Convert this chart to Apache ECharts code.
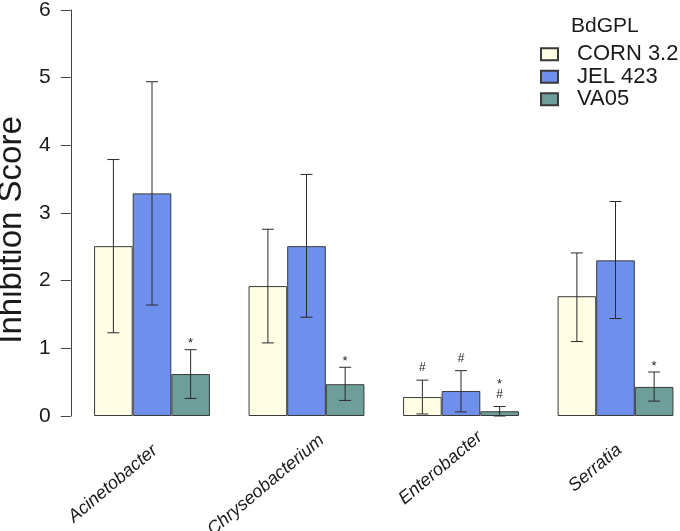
<!DOCTYPE html>
<html>
<head>
<meta charset="utf-8">
<script src="https://cdn.jsdelivr.net/npm/echarts@6/dist/echarts.min.js"></script>
<style>
html,body{margin:0;padding:0;background:#fff;}
#main{width:680px;height:531px;}
</style>
</head>
<body>
<div id="main"></div>
<script>
// ---- data ----
var categories = ['Acinetobacter', 'Chryseobacterium', 'Enterobacter', 'Serratia'];
var seriesNames = ['CORN 3.2', 'JEL 423', 'VA05'];
var yTicks = [0, 1, 2, 3, 4, 5, 6];

var cornMean = [2.51, 1.92, 0.28, 1.77];
var cornLow  = [1.23, 1.08, 0.03, 1.10];
var cornHigh = [3.79, 2.76, 0.53, 2.41];

var jelMean  = [3.29, 2.51, 0.37, 2.30];
var jelLow   = [1.64, 1.46, 0.06, 1.44];
var jelHigh  = [4.94, 3.57, 0.67, 3.17];

var vaMean   = [0.62, 0.47, 0.07, 0.43];
var vaLow    = [0.26, 0.23, 0.00, 0.22];
var vaHigh   = [0.98, 0.72, 0.14, 0.65];

// significance marks, listed bottom to top
var cornNote = ['', '', '#', ''];
var jelNote  = ['', '', '#', ''];
var vaNote   = ['*', '*', '#*', '*'];

var colors = ['#FFFDE4', '#6E8FEB', '#6E9E9A'];
var FONT = '"Liberation Sans", Arial, Helvetica, sans-serif';

var means = [cornMean, jelMean, vaMean];
var lows = [cornLow, jelLow, vaLow];
var highs = [cornHigh, jelHigh, vaHigh];
var notes = [cornNote, jelNote, vaNote];

var barSeries = seriesNames.map(function (name, s) {
  return {
    name: name,
    type: 'bar',
    data: means[s],
    barGap: '0%',
    barCategoryGap: '25%',
    itemStyle: { color: colors[s], borderColor: '#3a3a3a', borderWidth: 1 },
    emphasis: { disabled: true },
    z: 2
  };
});

var errData = [];
for (var s = 0; s < 3; s++) {
  for (var c = 0; c < categories.length; c++) {
    errData.push([c, lows[s][c], highs[s][c], s]);
  }
}

var errSeries = {
  type: 'custom',
  name: 'err',
  data: errData,
  z: 5,
  silent: true,
  encode: { x: 0, y: [1, 2] },
  renderItem: function (params, api) {
    var c = api.value(0), lo = api.value(1), hi = api.value(2), s = api.value(3);
    var band = api.size([1, 0])[0];
    var bw = band * 0.75 / 3;
    var pLo = api.coord([c, lo]);
    var pHi = api.coord([c, hi]);
    var x = pLo[0] + (s - 1) * bw;
    var cap = 6;
    var st = { stroke: '#2a2a2a', lineWidth: 1 };
    var children = [
      { type: 'line', shape: { x1: x, y1: pLo[1], x2: x, y2: pHi[1] }, style: st },
      { type: 'line', shape: { x1: x - cap, y1: pHi[1], x2: x + cap, y2: pHi[1] }, style: st },
      { type: 'line', shape: { x1: x - cap, y1: pLo[1], x2: x + cap, y2: pLo[1] }, style: st }
    ];
    var note = notes[s][c];
    var base = pHi[1];
    for (var k = 0; k < note.length; k++) {
      var ch = note.charAt(k);
      var cy = ch === '#' ? base - 12 : base - 6;
      children.push({
        type: 'text',
        style: {
          text: ch, x: x, y: cy,
          align: 'center', verticalAlign: 'middle',
          fontSize: ch === '#' ? 12 : 13, fontFamily: FONT, fill: '#222'
        }
      });
      base = base - 16;
    }
    return { type: 'group', children: children };
  }
};

// label nudges along the text direction (style only)
var labelRich = {
  l0: { padding: [0, -4, 0, 0] },
  l1: { padding: [0, -20, 0, 0] },
  l2: { padding: [0, -25, 0, 0] },
  l3: { padding: [0, -5, 0, 0] }
};
for (var key in labelRich) {
  labelRich[key].fontSize = 18;
  labelRich[key].fontStyle = 'italic';
  labelRich[key].fontFamily = FONT;
  labelRich[key].color = '#1a1a1a';
}

var chart = echarts.init(document.getElementById('main'), null, { renderer: 'canvas' });
chart.setOption({
  animation: false,
  backgroundColor: '#ffffff',
  textStyle: { fontFamily: FONT },
  title: {
    text: 'BdGPL',
    left: 566,
    top: 11,
    textStyle: { fontSize: 21, fontWeight: 'normal', color: '#1a1a1a', fontFamily: FONT }
  },
  legend: {
    data: seriesNames,
    orient: 'vertical',
    left: 535,
    top: 38,
    itemWidth: 17,
    itemHeight: 12,
    itemGap: 0,
    icon: 'rect',
    selectedMode: false,
    textStyle: { fontSize: 22, color: '#1a1a1a', fontFamily: FONT, padding: [0, 0, 0, 14], lineHeight: 22.5 }
  },
  grid: { left: 74.75, right: -12.75, top: 10, bottom: 115, containLabel: false, outerBoundsMode: 'none' },
  xAxis: {
    type: 'category',
    data: categories,
    axisLine: { show: false },
    axisTick: { show: false },
    axisLabel: {
      rotate: 40,
      margin: 35,
      fontSize: 18,
      fontStyle: 'italic',
      color: '#1a1a1a',
      fontFamily: FONT,
      interval: 0,
      formatter: function (v, i) { return '{l' + i + '|' + v + '}'; },
      rich: labelRich
    }
  },
  yAxis: {
    type: 'value',
    min: yTicks[0],
    max: yTicks[yTicks.length - 1],
    interval: 1,
    offset: 4,
    name: 'Inhibition Score',
    nameLocation: 'middle',
    nameGap: 30,
    nameTextStyle: { fontSize: 33, color: '#1a1a1a', fontFamily: FONT, padding: [0, 34, 0, 0] },
    axisLine: { show: true, lineStyle: { color: '#444', width: 1 } },
    axisTick: { show: true, length: 10, lineStyle: { color: '#444', width: 1 } },
    axisLabel: { fontSize: 21, color: '#1a1a1a', margin: 20, fontFamily: FONT },
    splitLine: { show: false }
  },
  series: barSeries.concat([errSeries])
});
</script>
</body>
</html>
